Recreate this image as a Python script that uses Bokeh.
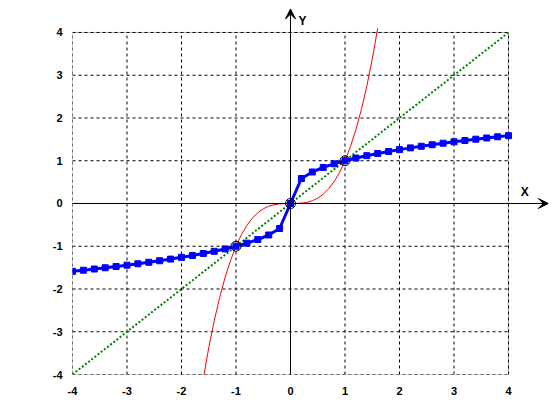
from bokeh.plotting import figure
from bokeh.models import Range1d, FixedTicker, Arrow, VeeHead, Label, BoxAnnotation
from bokeh.embed import file_html
from bokeh.resources import INLINE

# tick values
ticks = [-4, -3, -2, -1, 0, 1, 2, 3, 4]
tick_labels = ["-4", "-3", "-2", "-1", "0", "1", "2", "3", "4"]

# red curve (y = x^3 sampled)
red_x = [-1.6, -1.5, -1.4, -1.3, -1.2, -1.1, -1.0, -0.9, -0.8, -0.7, -0.6, -0.5, -0.4, -0.3, -0.2, -0.1,
         0.0, 0.1, 0.2, 0.3, 0.4, 0.5, 0.6, 0.7, 0.8, 0.9, 1.0, 1.1, 1.2, 1.3, 1.4, 1.5, 1.6]
red_y = [-4.096, -3.375, -2.744, -2.197, -1.728, -1.331, -1.0, -0.729, -0.512, -0.343, -0.216, -0.125,
         -0.064, -0.027, -0.008, -0.001, 0.0, 0.001, 0.008, 0.027, 0.064, 0.125, 0.216, 0.343, 0.512,
         0.729, 1.0, 1.331, 1.728, 2.197, 2.744, 3.375, 4.096]

# blue curve (cube root sampled every 0.2)
blue_x = [-4.0, -3.8, -3.6, -3.4, -3.2, -3.0, -2.8, -2.6, -2.4, -2.2, -2.0, -1.8, -1.6, -1.4, -1.2, -1.0,
          -0.8, -0.6, -0.4, -0.2, 0.0, 0.2, 0.4, 0.6, 0.8, 1.0, 1.2, 1.4, 1.6, 1.8, 2.0, 2.2, 2.4, 2.6,
          2.8, 3.0, 3.2, 3.4, 3.6, 3.8, 4.0]
blue_y = [-1.5874, -1.5605, -1.5326, -1.5037, -1.4736, -1.4422, -1.4095, -1.3751, -1.3389, -1.3006,
          -1.2599, -1.2164, -1.1696, -1.1187, -1.0627, -1.0, -0.9283, -0.8434, -0.7368, -0.5848, 0.0,
          0.5848, 0.7368, 0.8434, 0.9283, 1.0, 1.0627, 1.1187, 1.1696, 1.2164, 1.2599, 1.3006, 1.3389,
          1.3751, 1.4095, 1.4422, 1.4736, 1.5037, 1.5326, 1.5605, 1.5874]

# green line y = x
green_x = [-4, 4]
green_y = [-4, 4]

# intersection points
cross_x = [-1, 0, 1]
cross_y = [-1, 0, 1]

FONT = "Liberation Sans"
XMIN, XMAX, YMIN, YMAX = -4, 4, -4, 4

p = figure(width=556, height=412, output_backend="svg", toolbar_location=None,
           x_range=Range1d(-4, 4.734), y_range=Range1d(-4, 4.561),
           min_border_left=72, min_border_right=8, min_border_top=8, min_border_bottom=38)
p.background_fill_color = "white"
p.border_fill_color = "white"
p.outline_line_color = None
p.xgrid.visible = False
p.ygrid.visible = False

overrides = dict(zip(ticks, tick_labels))
for ax in (p.xaxis[0], p.yaxis[0]):
    ax.ticker = FixedTicker(ticks=ticks)
    ax.major_label_overrides = overrides
    ax.axis_line_color = None
    ax.major_tick_line_color = None
    ax.minor_tick_line_color = None
    ax.major_label_text_font = FONT
    ax.major_label_text_font_size = "11px"
    ax.major_label_text_font_style = "bold"
    ax.major_label_text_color = "black"
p.xaxis.major_label_standoff = 6
p.yaxis.major_label_standoff = 4

# dashed grid inside the box
p.segment(x0=ticks, y0=[YMIN] * len(ticks), x1=ticks, y1=[YMAX] * len(ticks),
          line_color="black", line_dash="3 3", line_width=1)
p.segment(x0=[XMIN] * len(ticks), y0=ticks, x1=[XMAX] * len(ticks), y1=ticks,
          line_color="black", line_dash="3 3", line_width=1)
p.add_layout(BoxAnnotation(left=XMIN, right=XMAX, bottom=YMIN, top=YMAX,
                           fill_color=None, fill_alpha=0, line_color="black", line_width=1, level="underlay"))

p.line(green_x, green_y, line_color="#008000", line_width=2, line_dash="2 2")
p.line(red_x, red_y, line_color="#FF0000", line_width=1)
p.line(blue_x, blue_y, line_color="#0000FF", line_width=3)
p.scatter(blue_x, blue_y, marker="square", size=6, fill_color="#0000FF", line_color="#0000FF")
p.scatter(cross_x, cross_y, marker="circle", size=10, fill_color=None, fill_alpha=0,
          line_color="black", line_width=1)

# axes through origin with arrows
p.add_layout(Arrow(x_start=XMIN, y_start=0, x_end=4.73, y_end=0, line_color="black", line_width=1,
                   end=VeeHead(size=10, fill_color="black", line_color="black", line_width=1)))
p.add_layout(Arrow(x_start=0, y_start=YMIN, x_end=0, y_end=4.55, line_color="black", line_width=1,
                   end=VeeHead(size=10, fill_color="black", line_color="black", line_width=1)))

p.add_layout(Label(x=4.3, y=0.28, text="X", text_align="center", text_baseline="middle",
                   text_font=FONT, text_font_size="12px", text_font_style="bold", text_color="black"))
p.add_layout(Label(x=0.22, y=4.28, text="Y", text_align="center", text_baseline="middle",
                   text_font=FONT, text_font_size="12px", text_font_style="bold", text_color="black"))

open("out.html", "w").write(file_html(p, INLINE))
